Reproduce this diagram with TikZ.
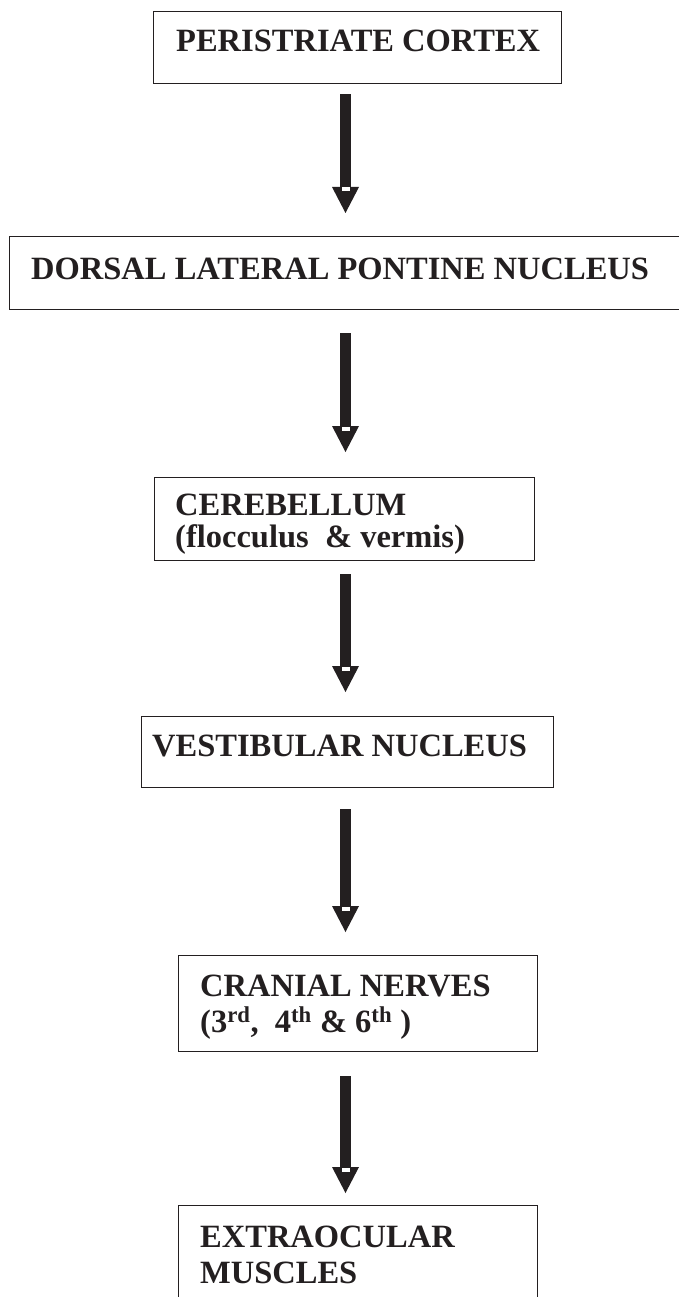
\documentclass[tikz,border=0pt]{standalone}
\usepackage{fontspec}
\setmainfont{Liberation Serif}
\usetikzlibrary{arrows.meta,calc}
\definecolor{ink}{HTML}{231F20}
\begin{document}
\begin{tikzpicture}[x=1pt,y=1pt,
  box/.style={draw=ink,line width=1.3pt,inner sep=0pt,anchor=north west},
  lbl/.style={inner sep=0pt,anchor=base west,text=ink,font=\bfseries\fontsize{32.5}{36}\selectfont},
  lblt/.style={lbl,font=\bfseries\fontsize{32.5}{32}\selectfont},
  bigarrow/.style={draw=ink,line width=11pt,-{Triangle[width=27pt,length=26pt,line width=0pt]}},
  notch/.style={fill=white}]
\clip (0,0) rectangle (679,-1297);
\coordinate (ax) at (345.5,0);
% boxes
\node[box,minimum width=408pt,minimum height=72pt] (b1) at (153,-11) {};
\node[box,minimum width=700pt,minimum height=73pt] (b2) at (9,-236) {};
\node[box,minimum width=380pt,minimum height=83pt] (b3) at (154,-477) {};
\node[box,minimum width=412pt,minimum height=71pt] (b4) at (141,-716) {};
\node[box,minimum width=359pt,minimum height=96pt] (b5) at (178,-955) {};
\node[box,minimum width=359pt,minimum height=120pt] (b6) at (178,-1205) {};
% labels
\node[lbl] (t1) at (176,-52) {PERISTRIATE CORTEX};
\node[lbl] (t2) at (31,-279) {DORSAL LATERAL PONTINE NUCLEUS};
\node[lblt] (t3) at (175,-515) {\begin{tabular}[t]{@{}l@{}}CEREBELLUM\\(flocculus\ \ \& vermis)\end{tabular}};
\node[lbl] (t4) at (152,-756) {VESTIBULAR NUCLEUS};
\node[lbl] (t5) at (200,-996) {\begin{tabular}[t]{@{}l@{}}CRANIAL NERVES\\(3\textsuperscript{rd},\ \ 4\textsuperscript{th} \& 6\textsuperscript{th} )\end{tabular}};
\node[lbl] (t6) at (200,-1247) {\begin{tabular}[t]{@{}l@{}}EXTRAOCULAR\\MUSCLES\end{tabular}};
% arrows
\draw[bigarrow,shorten <=10pt,shorten >=23pt] (b1.south -| ax) -- (b2.north -| ax);
\draw[bigarrow,shorten <=23pt,shorten >=25pt] (b2.south -| ax) -- (b3.north -| ax);
\draw[bigarrow,shorten <=13pt,shorten >=24pt] (b3.south -| ax) -- (b4.north -| ax);
\draw[bigarrow,shorten <=21pt,shorten >=23pt] (b4.south -| ax) -- (b5.north -| ax);
\draw[bigarrow,shorten <=24pt,shorten >=12pt] (b5.south -| ax) -- (b6.north -| ax);
% notches at the joint of shaft and head
\fill[notch] ($(b2.north -| ax)+(-4,44.5)$) rectangle ($(b2.north -| ax)+(4,48.5)$);
\fill[notch] ($(b3.north -| ax)+(-4,46.5)$) rectangle ($(b3.north -| ax)+(4,50.5)$);
\fill[notch] ($(b4.north -| ax)+(-4,45.5)$) rectangle ($(b4.north -| ax)+(4,49.5)$);
\fill[notch] ($(b5.north -| ax)+(-4,44.5)$) rectangle ($(b5.north -| ax)+(4,48.5)$);
\fill[notch] ($(b6.north -| ax)+(-4,33.5)$) rectangle ($(b6.north -| ax)+(4,37.5)$);
\end{tikzpicture}
\end{document}
